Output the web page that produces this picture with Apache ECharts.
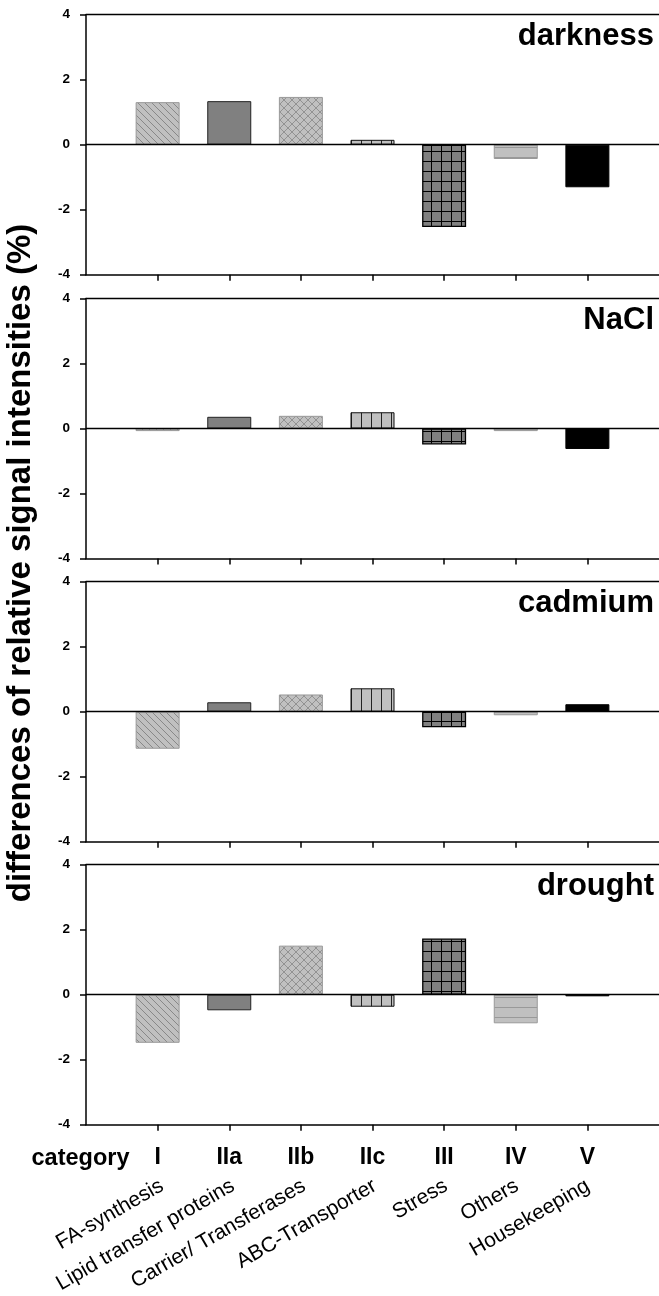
<!DOCTYPE html>
<html>
<head>
<meta charset="utf-8">
<script src="https://cdn.jsdelivr.net/npm/echarts@6/dist/echarts.min.js"></script>
<style>
html,body{margin:0;padding:0;background:#fff;}
#chart{width:659px;height:1296px;}
</style>
</head>
<body>
<div id="chart"></div>
<script>
// ---- data ----
const categories = ['I', 'IIa', 'IIb', 'IIc', 'III', 'IV', 'V'];
const categoryNames = ['FA-synthesis', 'Lipid transfer proteins', 'Carrier/ Transferases', 'ABC-Transporter', 'Stress', 'Others', 'Housekeeping'];
const panelNames = ['darkness', 'NaCl', 'cadmium', 'drought'];
const darkness = [1.31, 1.34, 1.47, 0.15, -2.53, -0.44, -1.31];
const nacl = [-0.08, 0.36, 0.39, 0.50, -0.49, -0.08, -0.63];
const cadmium = [-1.14, 0.29, 0.53, 0.72, -0.48, -0.11, 0.23];
const drought = [-1.48, -0.48, 1.51, -0.37, 1.73, -0.88, -0.05];
const yTickValues = [-4, -2, 0, 2, 4];
const axisTitle = 'differences of relative signal intensities (%)';
const firstLabel = 'category';

const panelValues = [darkness, nacl, cadmium, drought];

// ---- layout ----
const FONT = '"Liberation Sans", Arial, sans-serif';
const panelTops = [14.7, 298.5, 581.7, 864.7];
const panelHeight = 260;
const gridLeft = 86;

// ---- hatch patterns ----
function tile(w, h, bg, draw) {
  const c = document.createElement('canvas');
  c.width = w; c.height = h;
  const g = c.getContext('2d');
  g.fillStyle = bg; g.fillRect(0, 0, w, h);
  draw(g);
  return { image: c, repeat: 'repeat' };
}
const diagPattern = tile(7, 7, '#c0c0c0', g => {
  g.strokeStyle = '#888'; g.lineWidth = 1;
  [-7, 0, 7].forEach(k => { g.beginPath(); g.moveTo(k, 0); g.lineTo(k + 7, 7); g.stroke(); });
});
const crossPattern = tile(8, 8, '#c0c0c0', g => {
  g.strokeStyle = '#929292'; g.lineWidth = 1;
  [-8, 0, 8].forEach(k => {
    g.beginPath(); g.moveTo(k, 0); g.lineTo(k + 8, 8); g.stroke();
    g.beginPath(); g.moveTo(k, 8); g.lineTo(k + 8, 0); g.stroke();
  });
});
const vertPattern = tile(10, 10, '#c0c0c0', g => {
  g.fillStyle = '#222'; g.fillRect(1, 0, 1, 10);
});
const gridPattern = tile(10, 10, '#808080', g => {
  g.fillStyle = '#000'; g.fillRect(1, 0, 1, 10); g.fillRect(0, 1, 10, 1);
});
const horizPattern = tile(10, 10, '#c0c0c0', g => {
  g.fillStyle = '#999'; g.fillRect(0, 7, 10, 1);
});

const barStyles = [
  { color: diagPattern, borderColor: '#999', borderWidth: 1 },
  { color: '#808080', borderColor: '#222', borderWidth: 1 },
  { color: crossPattern, borderColor: '#999', borderWidth: 1 },
  { color: vertPattern, borderColor: '#111', borderWidth: 1 },
  { color: gridPattern, borderColor: '#000', borderWidth: 1.3 },
  { color: horizPattern, borderColor: '#999', borderWidth: 1 },
  { color: '#000', borderColor: '#000', borderWidth: 1 }
];

const tickPositions = categories.map((c, k) => k + 1);

const grids = [], xAxes = [], yAxes = [], series = [], graphics = [];
panelValues.forEach((vals, i) => {
  grids.push({ left: gridLeft, right: 0, top: panelTops[i], height: panelHeight });
  xAxes.push({
    gridIndex: i, type: 'value', min: 0, max: categories.length + 1, interval: 1, position: 'bottom',
    axisLine: { onZero: false, lineStyle: { color: '#000', width: 1.5 } },
    axisTick: { show: true, inside: false, length: 6, customValues: tickPositions, lineStyle: { color: '#000', width: 1.5 } },
    axisLabel: {
      show: i === 3, customValues: tickPositions, formatter: v => categories[v - 1] || '',
      fontSize: 23, fontWeight: 'bold', fontFamily: FONT, color: '#000', margin: 21
    },
    splitLine: { show: false }
  });
  yAxes.push({
    gridIndex: i, type: 'value', min: -4, max: 4, interval: 2,
    axisLine: { show: true, onZero: false, lineStyle: { color: '#000', width: 1.5 } },
    axisTick: { show: true, inside: false, length: 6, lineStyle: { color: '#000', width: 1.5 } },
    axisLabel: { fontSize: 13.5, fontWeight: 'bold', fontFamily: FONT, color: '#000', margin: 16,
      customValues: yTickValues },
    splitLine: { show: false }
  });
  series.push({
    type: 'bar', xAxisIndex: i, yAxisIndex: i, barWidth: 44,
    data: vals.map((v, k) => ({ value: [k + 1, v], itemStyle: barStyles[k] })),
    markLine: {
      silent: true, symbol: 'none', label: { show: false },
      lineStyle: { color: '#000', width: 1.3, type: 'solid' },
      data: [{ yAxis: 0 }]
    }
  });
  graphics.push({
    type: 'text', x: 654, y: panelTops[i] + 21.5,
    style: { text: panelNames[i], font: 'bold 31px ' + FONT, fill: '#000', align: 'right', verticalAlign: 'middle' }
  });
});
// top border lines
panelValues.forEach((vals, i) => {
  xAxes.push({
    gridIndex: i, type: 'value', min: 0, max: categories.length + 1, position: 'top',
    axisLine: { onZero: false, lineStyle: { color: '#000', width: 1.3 } },
    axisTick: { show: false }, axisLabel: { show: false }, splitLine: { show: false }
  });
});
// rotated descriptive labels under bottom panel
grids.push({ left: gridLeft + 5, right: -5, top: panelTops[3], height: panelHeight });
xAxes.push({
  gridIndex: 4, type: 'value', min: 0, max: categories.length + 1, position: 'bottom',
  axisLine: { show: false, onZero: false }, axisTick: { show: false }, splitLine: { show: false },
  axisLabel: {
    customValues: tickPositions, formatter: v => categoryNames[v - 1] || '',
    rotate: 30, fontSize: 21, fontFamily: FONT, color: '#000', margin: 74
  }
});
yAxes.push({ gridIndex: 4, type: 'value', min: -4, max: 4, show: false });

graphics.push({
  type: 'text', x: 31.5, y: panelTops[3] + panelHeight + 34,
  style: { text: firstLabel, font: 'bold 23.5px ' + FONT, fill: '#000', align: 'left', verticalAlign: 'middle' }
});
graphics.push({
  type: 'text', x: 21, y: 563, rotation: Math.PI / 2,
  style: { text: axisTitle, font: 'bold 33px ' + FONT, fill: '#000', align: 'center', verticalAlign: 'middle' }
});

const chart = echarts.init(document.getElementById('chart'), null, { renderer: 'canvas' });
chart.setOption({
  animation: false,
  backgroundColor: '#fff',
  grid: grids,
  xAxis: xAxes,
  yAxis: yAxes,
  series: series,
  graphic: graphics
});
</script>
</body>
</html>
